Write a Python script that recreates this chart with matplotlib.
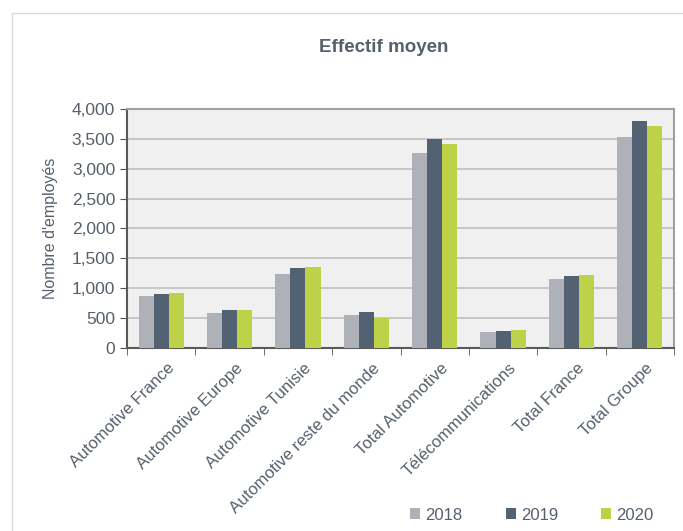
import numpy as np
import matplotlib.pyplot as plt
from matplotlib.patches import Rectangle

categories = ["Automotive France", "Automotive Europe", "Automotive Tunisie",
              "Automotive reste du monde", "Total Automotive", "Télécommunications",
              "Total France", "Total Groupe"]
years = ["2018", "2019", "2020"]
v2018 = [871, 581, 1246, 553, 3257, 268, 1151, 3531]
v2019 = [899, 642, 1341, 598, 3492, 290, 1201, 3793]
v2020 = [916, 637, 1358, 497, 3408, 296, 1223, 3721]
colors = ["#AEB1B8", "#526272", "#BDD248"]
txt = "#56606C"

plt.rcParams['font.family'] = ['Liberation Sans', 'DejaVu Sans']

fig = plt.figure(figsize=(6.83, 5.31), dpi=100)
fig.patches.append(Rectangle((12 / 683, -0.1), 1.2, 1 - 13 / 531 + 0.1, transform=fig.transFigure,
                             fill=False, edgecolor="#D9D9D9", linewidth=1))
ax = fig.add_axes([127 / 683, 1 - 348 / 531, (674 - 127) / 683, (348 - 109) / 531])
ax.set_facecolor("#F0F0F0")

x = np.arange(len(categories))
w = 0.22
for i, (vals, c, yr) in enumerate(zip([v2018, v2019, v2020], colors, years)):
    ax.bar(x + (i - 1) * w, vals, w, color=c, label=yr, zorder=3)

ax.set_xlim(-0.5, len(categories) - 0.5)
ax.set_ylim(0, 4000)
ax.set_yticks(range(0, 4001, 500))
ax.set_yticklabels([f"{v:,}" for v in range(0, 4001, 500)])
ax.yaxis.grid(True, color="#BFBFBF", linewidth=1.2, zorder=0)
ax.set_xticks(x + 0.08)
ax.set_xticklabels(categories, rotation=45, ha="right", rotation_mode="anchor")
ax.set_xticks(np.arange(-0.5, len(categories)), minor=True)
ax.tick_params(axis="x", which="major", length=0, pad=9, labelsize=12, labelcolor=txt)
ax.tick_params(axis="x", which="minor", length=5, color="#555555")
ax.tick_params(axis="y", length=5, color="#555555", labelsize=12.5, labelcolor=txt)

for s in ["left", "bottom"]:
    ax.spines[s].set_color("#5A5A5A")
    ax.spines[s].set_linewidth(1.5)
for s in ["right", "top"]:
    ax.spines[s].set_color("#A0A0A0")
    ax.spines[s].set_linewidth(1.5)

ax.set_ylabel("Nombre d'employés", fontsize=11.5, color=txt, labelpad=10)
fig.text(384 / 683, 1 - 47 / 531, "Effectif moyen", ha="center", va="center",
         fontsize=13.5, fontweight="bold", color=txt)

ax.legend(loc="center", bbox_to_anchor=(532 / 683, 1 - 515 / 531), bbox_transform=fig.transFigure,
          ncol=3, frameon=False, fontsize=12, labelcolor=txt, handlelength=0.6, handleheight=0.6,
          handletextpad=0.3, columnspacing=2.6)

fig.savefig("out.png", dpi=100)
